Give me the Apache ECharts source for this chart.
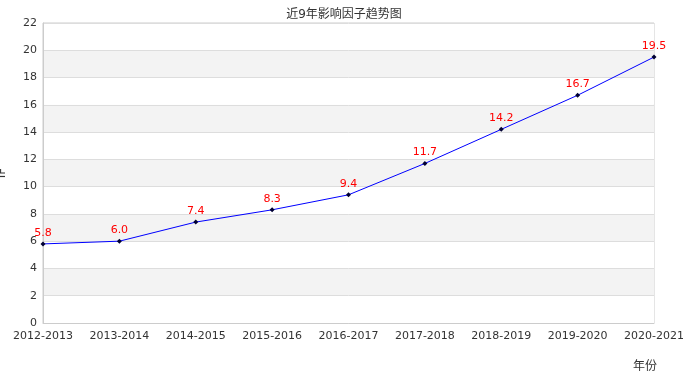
<!DOCTYPE html>
<html><head><meta charset="utf-8">
<script src="https://cdn.jsdelivr.net/npm/echarts@6/dist/echarts.min.js"></script>
<style>html,body{margin:0;padding:0;background:#fff}#c{width:688px;height:388px}</style>
</head><body><div id="c"></div>
<script>
var categories = ['2012-2013','2013-2014','2014-2015','2015-2016','2016-2017','2017-2018','2018-2019','2019-2020','2020-2021'];
var ifValues = [5.8, 6.0, 7.4, 8.3, 9.4, 11.7, 14.2, 16.7, 19.5];
var titleText = '近9年影响因子趋势图';
var yName = 'IF';
var xName = '年份';
var font = 'DejaVu Sans, Noto Sans CJK SC, sans-serif';
var chart = echarts.init(document.getElementById('c'), null, {renderer:'canvas'});
chart.setOption({
  animation:false,
  backgroundColor:'#fff',
  title:{text:titleText,left:'center',top:4,textStyle:{fontSize:12,fontWeight:'normal',color:'#333',fontFamily:font}},
  grid:{left:43,right:34,top:23,bottom:65,containLabel:false,outerBoundsMode:'none',show:true,borderColor:'#ccc',borderWidth:1,backgroundColor:'transparent'},
  xAxis:{type:'category',data:categories,boundaryGap:false,
    name:xName,nameLocation:'end',nameGap:-9,
    nameTextStyle:{align:'center',verticalAlign:'top',padding:[38,0,0,0],fontSize:12,color:'#333',fontFamily:font},
    axisLine:{lineStyle:{color:'#ccc'}},axisTick:{show:false},
    axisLabel:{color:'#333',fontSize:11,fontFamily:font,margin:8,interval:0},
    splitLine:{show:false}},
  yAxis:{type:'value',min:0,max:22,interval:2,
    name:yName,nameLocation:'middle',nameGap:35,nameRotate:90,
    nameTextStyle:{fontSize:12,color:'#333',fontFamily:font},
    axisLine:{show:true,lineStyle:{color:'#ccc'}},axisTick:{show:false},
    axisLabel:{color:'#333',fontSize:11,fontFamily:font,margin:6},
    splitLine:{show:true,lineStyle:{color:'#ddd'}},
    splitArea:{show:true,areaStyle:{color:['#ffffff','#f3f3f3']}}},
  series:[{type:'line',data:ifValues,
    lineStyle:{color:'#0000ff',width:1},
    itemStyle:{color:'#000033'},
    symbol:'diamond',symbolSize:5,
    label:{show:true,position:'top',distance:3,color:'#ff0000',fontSize:11,fontFamily:font,formatter:function(p){return p.value.toFixed(1);}}
  }]
});
</script></body></html>
